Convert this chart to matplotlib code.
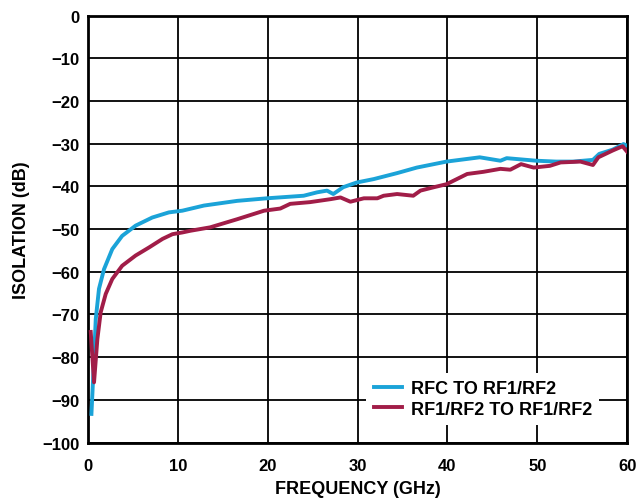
import matplotlib.pyplot as plt

plt.rcParams['font.family'] = ['Liberation Sans', 'DejaVu Sans']

# RFC to RF1/RF2
rfc_freq = [0.38, 0.67, 0.86, 1.22, 1.78, 2.7, 3.8, 5.3, 7.15, 9.0, 10.5,
            12.9, 16.6, 19.9, 24.0, 25.5, 26.6, 27.3, 28.4, 29.9, 31.8,
            34.4, 36.6, 39.9, 43.6, 45.9, 46.6, 49.9, 52.1, 54.0, 56.2,
            56.9, 58.4, 59.6, 60.0]
rfc_iso = [-93.3, -80.4, -71.1, -64.0, -59.4, -54.7, -51.6, -49.2, -47.3, -46.1, -45.7,
           -44.5, -43.4, -42.8, -42.2, -41.4, -41.0, -41.8, -40.2, -39.1, -38.3,
           -36.9, -35.6, -34.2, -33.2, -34.0, -33.4, -34.0, -34.2, -34.2, -33.8,
           -32.4, -31.4, -30.1, -30.5]

# RF1/RF2 to RF1/RF2
rf_freq = [0.3, 0.67, 1.04, 1.41, 1.97, 2.7, 3.8, 5.3, 6.8, 8.3, 9.4, 10.5,
           11.4, 13.6, 16.6, 19.6, 21.4, 22.5, 24.7, 27.0, 28.1, 29.2, 30.7,
           32.2, 32.9, 34.4, 36.2, 37.0, 38.5, 39.9, 42.2, 44.0, 45.9, 47.0,
           48.2, 49.6, 51.4, 52.6, 54.8, 56.2, 56.8, 58.4, 59.5, 60.0]
rf_iso = [-74.1, -85.9, -75.8, -69.5, -65.2, -61.7, -58.6, -56.2, -54.3, -52.3, -51.2, -50.8,
          -50.4, -49.6, -47.7, -45.7, -45.2, -44.1, -43.7, -43.0, -42.6, -43.6, -42.8,
          -42.8, -42.2, -41.8, -42.2, -41.0, -40.2, -39.5, -37.1, -36.6, -35.9, -36.1,
          -34.8, -35.6, -35.2, -34.4, -34.2, -35.0, -33.2, -31.6, -30.6, -31.9]

fig = plt.figure(figsize=(6.36, 5.02), dpi=100)
ax = fig.add_axes([0.1384, 0.1165, 0.8476, 0.8505])

ax.plot(rfc_freq, rfc_iso, color='#1ba3d8', lw=2.8, label='RFC TO RF1/RF2', zorder=3)
ax.plot(rf_freq, rf_iso, color='#a11d48', lw=2.8, label='RF1/RF2 TO RF1/RF2', zorder=3)

ax.set_xlim(0, 60)
ax.set_ylim(-100, 0)
ax.set_xticks(range(0, 61, 10))
ax.set_yticks(range(-100, 1, 10))
ax.grid(True, color='black', lw=1.3)
ax.tick_params(length=0, labelsize=12)
ax.tick_params(axis='x', pad=11)
ax.tick_params(axis='y', pad=6)
for lbl in ax.get_xticklabels() + ax.get_yticklabels():
    lbl.set_fontweight('bold')
for s in ax.spines.values():
    s.set_linewidth(2)

ax.set_xlabel('FREQUENCY (GHz)', fontsize=13, fontweight='bold', labelpad=5)
ax.set_ylabel('ISOLATION (dB)', fontsize=13, fontweight='bold', labelpad=9)

leg = ax.legend(loc='lower right', frameon=True, fontsize=13, handlelength=1.6,
                borderaxespad=0, labelspacing=0.2, handletextpad=0.45,
                bbox_to_anchor=(0.948, 0.041))
leg.get_frame().set_edgecolor('none')
leg.get_frame().set_alpha(1)
for t in leg.get_texts():
    t.set_fontweight('bold')

fig.savefig('out.png', dpi=100)
